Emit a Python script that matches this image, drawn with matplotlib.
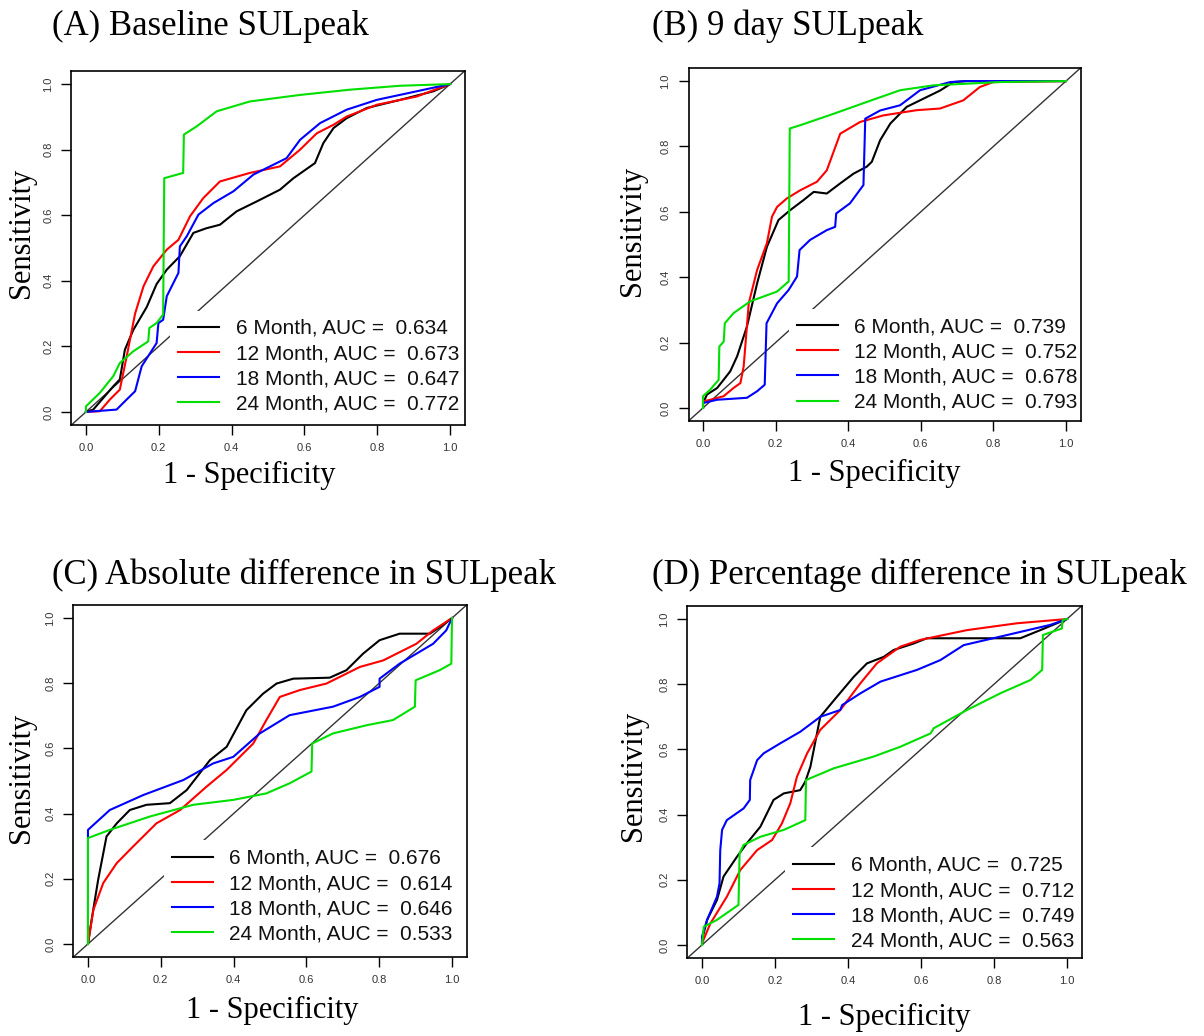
import matplotlib
matplotlib.use("Agg")
import matplotlib.pyplot as plt

# ---------------- data ----------------
series_names = ["6 Month", "12 Month", "18 Month", "24 Month"]
series_colors = ["black", "red", "blue", "#00e000"]
tick_values = [0.0, 0.2, 0.4, 0.6, 0.8, 1.0]
tick_labels = ["0.0", "0.2", "0.4", "0.6", "0.8", "1.0"]

panel_titles = ["(A) Baseline SULpeak", "(B) 9 day SULpeak",
                "(C) Absolute difference in SULpeak",
                "(D) Percentage difference in SULpeak"]

auc_a = [0.634, 0.673, 0.647, 0.772]
auc_b = [0.739, 0.752, 0.678, 0.793]
auc_c = [0.676, 0.614, 0.646, 0.533]
auc_d = [0.725, 0.712, 0.749, 0.563]

# Panel A
a_6m_x = [0, 0.02, 0.075, 0.093, 0.107, 0.13, 0.167, 0.194, 0.222, 0.258, 0.295, 0.33, 0.368, 0.414, 0.469, 0.533, 0.57, 0.629, 0.652, 0.68, 0.716, 0.771, 0.863, 0.954, 1]
a_6m_y = [0, 0.007, 0.078, 0.099, 0.19, 0.25, 0.32, 0.39, 0.434, 0.475, 0.546, 0.56, 0.571, 0.612, 0.642, 0.678, 0.713, 0.759, 0.82, 0.866, 0.896, 0.927, 0.952, 0.978, 1]
a_12m_x = [0, 0.038, 0.066, 0.093, 0.112, 0.135, 0.158, 0.185, 0.222, 0.254, 0.286, 0.322, 0.368, 0.45, 0.533, 0.588, 0.634, 0.68, 0.716, 0.799, 0.908, 1]
a_12m_y = [0, 0.002, 0.038, 0.068, 0.17, 0.30, 0.383, 0.444, 0.495, 0.525, 0.597, 0.652, 0.703, 0.729, 0.749, 0.80, 0.85, 0.876, 0.901, 0.937, 0.962, 1]
a_18m_x = [0, 0.084, 0.112, 0.135, 0.153, 0.194, 0.199, 0.212, 0.222, 0.254, 0.258, 0.277, 0.309, 0.35, 0.405, 0.46, 0.551, 0.588, 0.643, 0.716, 0.799, 0.908, 1]
a_18m_y = [0, 0.007, 0.038, 0.063, 0.139, 0.21, 0.271, 0.281, 0.353, 0.424, 0.505, 0.536, 0.602, 0.637, 0.673, 0.724, 0.774, 0.83, 0.881, 0.922, 0.952, 0.978, 1]
a_24m_x = [0, 0, 0.038, 0.075, 0.093, 0.13, 0.171, 0.174, 0.194, 0.212, 0.215, 0.267, 0.269, 0.304, 0.359, 0.45, 0.588, 0.725, 0.863, 1]
a_24m_y = [0, 0.017, 0.058, 0.109, 0.149, 0.185, 0.215, 0.256, 0.271, 0.297, 0.713, 0.729, 0.846, 0.871, 0.917, 0.947, 0.967, 0.983, 0.995, 1]

# Panel B
b_6m_x = [0, 0, 0.011, 0.039, 0.075, 0.094, 0.121, 0.149, 0.176, 0.208, 0.24, 0.277, 0.305, 0.341, 0.378, 0.415, 0.451, 0.465, 0.488, 0.516, 0.561, 0.607, 0.653, 0.69, 0.727, 1]
b_6m_y = [0, 0.015, 0.041, 0.061, 0.112, 0.158, 0.249, 0.381, 0.493, 0.575, 0.605, 0.636, 0.661, 0.656, 0.687, 0.717, 0.738, 0.753, 0.819, 0.87, 0.921, 0.946, 0.971, 0.997, 1.0, 1]
b_12m_x = [0, 0, 0.02, 0.057, 0.084, 0.103, 0.112, 0.126, 0.149, 0.176, 0.19, 0.204, 0.231, 0.268, 0.314, 0.341, 0.378, 0.433, 0.497, 0.589, 0.653, 0.717, 0.763, 0.8, 1]
b_12m_y = [0, 0.02, 0.025, 0.036, 0.061, 0.076, 0.127, 0.32, 0.422, 0.504, 0.585, 0.615, 0.641, 0.666, 0.692, 0.727, 0.839, 0.875, 0.895, 0.911, 0.916, 0.941, 0.982, 0.997, 1]
b_18m_x = [0, 0, 0.039, 0.121, 0.149, 0.17, 0.175, 0.204, 0.236, 0.259, 0.266, 0.295, 0.341, 0.364, 0.367, 0.405, 0.442, 0.447, 0.488, 0.543, 0.598, 0.681, 0.727, 1]
b_18m_y = [0, 0.015, 0.025, 0.031, 0.051, 0.071, 0.259, 0.32, 0.361, 0.402, 0.483, 0.514, 0.544, 0.554, 0.595, 0.626, 0.682, 0.885, 0.91, 0.926, 0.972, 0.997, 1.0, 1]
b_24m_x = [0, 0, 0.02, 0.043, 0.045, 0.057, 0.06, 0.084, 0.13, 0.204, 0.236, 0.239, 0.268, 0.36, 0.451, 0.543, 0.635, 0.727, 0.818, 1]
b_24m_y = [0, 0.036, 0.056, 0.086, 0.188, 0.203, 0.259, 0.29, 0.326, 0.356, 0.387, 0.855, 0.865, 0.9, 0.936, 0.972, 0.987, 0.992, 0.997, 1]

# Panel C
c_6m_x = [0, 0.01, 0.028, 0.051, 0.079, 0.115, 0.161, 0.225, 0.271, 0.335, 0.381, 0.435, 0.481, 0.518, 0.564, 0.664, 0.71, 0.756, 0.801, 0.856, 0.939, 0.966, 1]
c_6m_y = [0, 0.074, 0.197, 0.33, 0.37, 0.411, 0.427, 0.432, 0.472, 0.564, 0.605, 0.717, 0.768, 0.799, 0.814, 0.817, 0.84, 0.891, 0.932, 0.952, 0.952, 0.972, 1]
c_12m_x = [0, 0.015, 0.042, 0.079, 0.124, 0.188, 0.253, 0.326, 0.381, 0.454, 0.49, 0.527, 0.582, 0.655, 0.747, 0.811, 0.902, 0.948, 1]
c_12m_y = [0, 0.105, 0.187, 0.248, 0.299, 0.37, 0.411, 0.483, 0.534, 0.615, 0.687, 0.758, 0.779, 0.799, 0.85, 0.87, 0.921, 0.962, 1]
c_18m_x = [0, 0, 0.06, 0.152, 0.262, 0.344, 0.399, 0.472, 0.554, 0.673, 0.747, 0.801, 0.801, 0.856, 0.948, 0.984, 1]
c_18m_y = [0, 0.35, 0.411, 0.457, 0.503, 0.554, 0.574, 0.646, 0.702, 0.728, 0.758, 0.789, 0.814, 0.86, 0.921, 0.962, 1]
c_24m_x = [0, 0, 0.06, 0.17, 0.289, 0.399, 0.49, 0.554, 0.614, 0.616, 0.673, 0.765, 0.838, 0.898, 0.9, 0.966, 0.998, 1]
c_24m_y = [0, 0.325, 0.35, 0.391, 0.427, 0.442, 0.462, 0.493, 0.529, 0.615, 0.646, 0.671, 0.687, 0.728, 0.809, 0.84, 0.86, 1]

# Panel D
d_6m_x = [0, 0, 0.014, 0.041, 0.059, 0.096, 0.123, 0.16, 0.196, 0.224, 0.269, 0.283, 0.297, 0.324, 0.37, 0.416, 0.452, 0.498, 0.525, 0.58, 0.616, 0.872, 0.927, 1]
d_6m_y = [0, 0.015, 0.077, 0.138, 0.21, 0.271, 0.312, 0.363, 0.445, 0.465, 0.475, 0.501, 0.547, 0.7, 0.762, 0.823, 0.864, 0.884, 0.905, 0.925, 0.941, 0.941, 0.966, 1]
d_12m_x = [0, 0, 0.023, 0.068, 0.105, 0.151, 0.192, 0.219, 0.242, 0.26, 0.288, 0.324, 0.379, 0.434, 0.479, 0.543, 0.598, 0.726, 0.863, 1]
d_12m_y = [0, 0.005, 0.066, 0.148, 0.23, 0.291, 0.322, 0.373, 0.435, 0.516, 0.588, 0.66, 0.721, 0.803, 0.864, 0.915, 0.936, 0.966, 0.987, 1]
d_18m_x = [0, 0, 0.014, 0.041, 0.048, 0.05, 0.055, 0.068, 0.114, 0.131, 0.132, 0.151, 0.169, 0.215, 0.269, 0.324, 0.379, 0.384, 0.434, 0.489, 0.589, 0.653, 0.717, 0.817, 0.954, 1]
d_18m_y = [0, 0.026, 0.077, 0.148, 0.189, 0.291, 0.353, 0.383, 0.419, 0.445, 0.506, 0.567, 0.588, 0.619, 0.654, 0.7, 0.721, 0.736, 0.772, 0.808, 0.844, 0.874, 0.92, 0.946, 0.982, 1]
d_24m_x = [0, 0.005, 0.041, 0.1, 0.103, 0.114, 0.16, 0.224, 0.283, 0.285, 0.306, 0.361, 0.47, 0.543, 0.626, 0.635, 0.726, 0.817, 0.9, 0.932, 0.934, 0.986, 0.988, 1]
d_24m_y = [0, 0.056, 0.077, 0.123, 0.281, 0.307, 0.332, 0.353, 0.383, 0.506, 0.516, 0.542, 0.578, 0.608, 0.649, 0.665, 0.721, 0.772, 0.813, 0.844, 0.951, 0.971, 0.997, 1]

# ---------------- layout ----------------
W, H = 1204, 1036
serif = ["Liberation Serif", "DejaVu Serif"]
sans = ["Liberation Sans", "DejaVu Sans"]

fig = plt.figure(figsize=(W / 100, H / 100), dpi=100)
fig.patch.set_facecolor("white")

# pixel boxes: left, right, top, bottom
boxes = [(71.4, 464.6, 71, 425), (688.5, 1080.5, 68, 421),
         (73.4, 466.6, 605, 957), (687.4, 1081.6, 606, 958)]
title_pos = [(52, 26), (652, 26), (52, 575), (652, 575)]
ylabel_pos = [(-0.126, 0.542), (-0.142, 0.538), (-0.131, 0.509), (-0.136, 0.517)]
xlabel_pos = [(0.452, -0.144), (0.473, -0.150), (0.505, -0.151), (0.499, -0.170)]
legend_pos = [(0.251, 0.323), (0.256, 0.318), (0.230, 0.331), (0.2475, 0.314)]

panel_data = [
    ([a_6m_x, a_12m_x, a_18m_x, a_24m_x], [a_6m_y, a_12m_y, a_18m_y, a_24m_y], auc_a),
    ([b_6m_x, b_12m_x, b_18m_x, b_24m_x], [b_6m_y, b_12m_y, b_18m_y, b_24m_y], auc_b),
    ([c_6m_x, c_12m_x, c_18m_x, c_24m_x], [c_6m_y, c_12m_y, c_18m_y, c_24m_y], auc_c),
    ([d_6m_x, d_12m_x, d_18m_x, d_24m_x], [d_6m_y, d_12m_y, d_18m_y, d_24m_y], auc_d),
]

for i, (xs, ys, aucs) in enumerate(panel_data):
    l, r, t, b = boxes[i]
    ax = fig.add_axes([l / W, 1 - b / H, (r - l) / W, (b - t) / H])
    ax.set_xlim(-0.04, 1.04)
    ax.set_ylim(-0.04, 1.04)
    ax.axline((0, 0), (1, 1), color="#333333", lw=1.0, zorder=1)
    for k in range(4):
        lab = f"{series_names[k]}, AUC =  {aucs[k]:.3f}"
        ax.plot(xs[k], ys[k], color=series_colors[k], lw=1.5, label=lab, zorder=2)
    for s in ax.spines.values():
        s.set_linewidth(1.2)
        s.set_color("black")
    ax.set_xticks(tick_values)
    ax.set_yticks(tick_values)
    ax.set_xticklabels(tick_labels, fontfamily=sans, fontsize=8, color="#333333")
    ax.set_yticklabels(tick_labels, fontfamily=sans, fontsize=8, color="#333333",
                       rotation=90, va="center")
    ax.tick_params(direction="out", length=7, width=1, pad=6)
    ax.set_xlabel("1 - Specificity", fontfamily=serif, fontsize=22, va="center")
    ax.set_ylabel("Sensitivity", fontfamily=serif, fontsize=22, va="center")
    ax.xaxis.set_label_coords(*xlabel_pos[i])
    ax.yaxis.set_label_coords(*ylabel_pos[i])
    leg = ax.legend(loc="upper left", bbox_to_anchor=legend_pos[i], borderaxespad=0,
                    frameon=True, fancybox=False, facecolor="white", edgecolor="none",
                    framealpha=1, prop={"family": sans, "size": 15},
                    handlelength=1.95, handletextpad=0.8, labelspacing=0.3,
                    borderpad=0.4)
    leg.set_zorder(2.2)
    for tx in leg.get_texts():
        tx.set_color("#111111")
    fig.text(title_pos[i][0] / W, 1 - title_pos[i][1] / H, panel_titles[i],
             fontfamily=serif, fontsize=25, ha="left", va="center")

fig.savefig("out.png", dpi=100, facecolor="white")
